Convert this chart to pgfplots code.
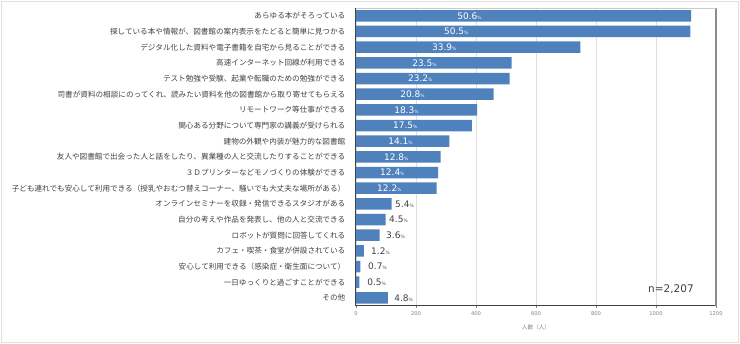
\documentclass[border=0pt]{standalone}
\usepackage{pgfplots}
\pgfplotsset{compat=1.18}
\usepackage{pgfplotstable}
\usepackage{fontspec}
\setmainfont{Noto Sans CJK JP}
\newfontfamily\numfont{DejaVu Sans}
\definecolor{barblue}{RGB}{79,129,189}
\definecolor{txt}{RGB}{64,64,64}
\definecolor{ticktxt}{RGB}{128,128,128}

\pgfplotstableread{
y cnt pct labx
0 1117 50.6 337
1 1115 50.5 293
2 748 33.9 253
3 519 23.5 187
4 512 23.2 173
5 459 20.8 147
6 404 18.3 127
7 386 17.5 123
8 311 14.1 107
9 282 12.8 93
10 274 12.4 80
11 269 12.2 70
12 119 5.4 130
13 99 4.5 110
14 79 3.6 100
15 26 1.2 50
16 15 0.7 40
17 11 0.5 37
18 106 4.8 127
}\data

\begin{document}
\begin{tikzpicture}
\useasboundingbox (-356pt,-38.3pt) rectangle (384pt,305.7pt);
\draw[black!12, line width=0.8pt] (-354.5pt,-37pt) rectangle (382.5pt,304.5pt);
\begin{axis}[
  at={(0pt,0pt)}, anchor=south west,
  scale only axis, width=360pt, height=297.7pt,
  xmin=0, xmax=1200, ymin=-0.5, ymax=18.5, y dir=reverse,
  xtick={0,200,...,1200},
  ytick={0,...,18},
  yticklabels={
    {あらゆる本がそろっている},
    {探している本や情報が、図書館の案内表示をたどると簡単に見つかる},
    {デジタル化した資料や電子書籍を自宅から見ることができる},
    {高速インターネット回線が利用できる},
    {テスト勉強や受験、起業や転職のための勉強ができる},
    {司書が資料の相談にのってくれ、読みたい資料を他の図書館から取り寄せてもらえる},
    {リモートワーク等仕事ができる},
    {関心ある分野について専門家の講義が受けられる},
    {建物の外観や内装が魅力的な図書館},
    {友人や図書館で出会った人と話をしたり、異業種の人と交流したりすることができる},
    {３Ｄプリンターなどモノづくりの体験ができる},
    {子ども連れでも安心して利用できる（授乳やおむつ替えコーナー、騒いでも大丈夫な場所がある）},
    {オンラインセミナーを収録・発信できるスタジオがある},
    {自分の考えや作品を発表し、他の人と交流できる},
    {ロボットが質問に回答してくれる},
    {カフェ・喫茶・食堂が併設されている},
    {安心して利用できる（感染症・衛生面について）},
    {一日ゆっくりと過ごすことができる},
    {その他}},
  axis x line*=bottom, axis y line*=left,
  axis line style={txt, line width=1pt},
  xmajorgrids, grid style={black!13, line width=0.7pt},
  ytick style={draw=none},
  xtick style={ticktxt, line width=0.5pt},
  tick align=outside, major tick length=2.5pt,
  /pgf/number format/assume math mode=true,
  /pgf/number format/1000 sep={},
  xticklabel style={font=\numfont\fontsize{5.2}{6}\selectfont, text=ticktxt},
  yticklabel style={font=\fontsize{7.6}{8}\selectfont, text=txt, inner xsep=0pt, xshift=-8pt},
  xlabel={人数（人）},
  xlabel style={font=\fontsize{5.6}{6}\selectfont, text=ticktxt, yshift=-2pt},
  clip=false,
]
\addplot[xbar, bar width=11.5pt, fill=barblue, draw=none] table[x=cnt, y=y] {\data};
\addplot[draw=none, mark=none, skip coords between index={12}{19},
  point meta=explicit, nodes near coords align=horizontal,
  nodes near coords={\pgfmathprintnumber[fixed,fixed zerofill,precision=1]{\pgfplotspointmeta}{\fontsize{4.5}{5}\selectfont\%}},
  every node near coord/.append style={anchor=west, inner xsep=0pt, text=white, font=\numfont\fontsize{9}{10}\selectfont}]
  table[x=labx, y=y, meta=pct] {\data};
\addplot[draw=none, mark=none, skip coords between index={0}{12},
  point meta=explicit, nodes near coords align=horizontal,
  nodes near coords={\pgfmathprintnumber[fixed,fixed zerofill,precision=1]{\pgfplotspointmeta}{\fontsize{4.5}{5}\selectfont\%}},
  every node near coord/.append style={anchor=west, inner xsep=0pt, text=txt, font=\numfont\fontsize{9}{10}\selectfont}]
  table[x=labx, y=y, meta=pct] {\data};
\draw[black!45, line width=1.3pt] (rel axis cs:1,0) -- (rel axis cs:1,1);
\draw[black!20, line width=0.7pt] (rel axis cs:0,1) -- (rel axis cs:1,1);
\node[anchor=center, text=txt, font=\numfont\fontsize{10.5}{12}\selectfont] at (axis cs:1050,17.45) {n=2,207};
\end{axis}
\end{tikzpicture}
\end{document}
